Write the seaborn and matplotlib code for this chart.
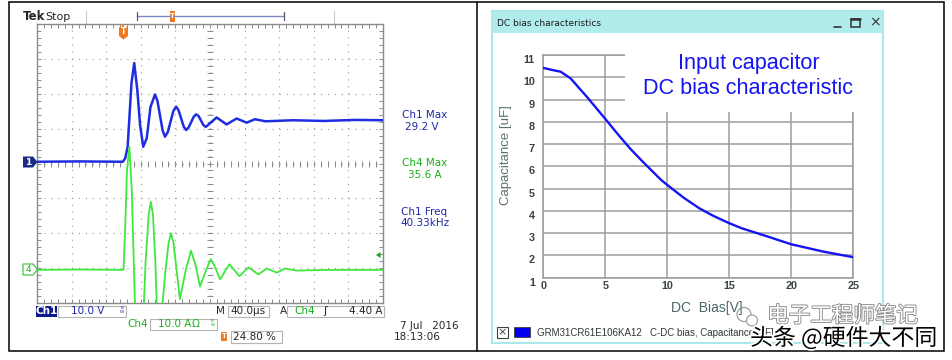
import numpy as np
import matplotlib
matplotlib.use("Agg")
import matplotlib.pyplot as plt
import matplotlib.patches as mpatches
import matplotlib.patheffects as pe
import matplotlib.transforms as mtransforms
import seaborn as sns

sns.set_theme(style="white")
plt.rcParams["font.family"] = ["DejaVu Sans", "Noto Sans CJK SC"]
plt.rcParams["lines.scale_dashes"] = False

# scope traces in divisions (10 x 8 graticule)
CH1_T = [0.0, 1.2, 2.48, 2.55, 2.62, 2.73, 2.81, 2.90, 2.98, 3.07, 3.17, 3.28,
         3.41, 3.48, 3.63, 3.70, 3.78, 3.94, 4.02, 4.09, 4.24, 4.31, 4.38, 4.53,
         4.60, 4.67, 4.81, 4.88, 5.19, 5.48, 5.77, 6.06, 6.30, 6.60, 7.40, 8.30,
         9.20, 10.0]
CH1_V = [4.05, 4.06, 4.05, 4.15, 4.48, 6.30, 6.88, 6.10, 5.10, 4.48, 4.72, 5.62,
         5.98, 5.80, 4.95, 4.77, 4.90, 5.50, 5.63, 5.53, 5.06, 4.96, 5.03, 5.34,
         5.41, 5.36, 5.10, 5.05, 5.32, 5.12, 5.29, 5.17, 5.27, 5.21, 5.24, 5.22,
         5.25, 5.24]

CH4_T = [0.0, 1.3, 2.50, 2.55, 2.60, 2.67, 2.74, 2.83, 2.95, 3.09, 3.14, 3.23,
         3.29, 3.35, 3.42, 3.46, 3.55, 3.63, 3.70, 3.80, 3.87, 3.94, 4.04, 4.13,
         4.29, 4.45, 4.58, 4.71, 4.87, 5.02, 5.16, 5.29, 5.56, 5.85, 6.11, 6.40,
         6.64, 6.93, 7.17, 7.50, 8.50, 10.0]
CH4_I = [0.95, 0.96, 0.95, 2.20, 3.80, 4.48, 3.20, 0.00, -0.90, 0.00, 1.20, 2.55,
         2.90, 2.55, 1.20, 0.00, -0.60, 0.00, 0.80, 1.70, 2.00, 1.75, 0.90, 0.11,
         0.90, 1.50, 1.10, 0.47, 0.90, 1.26, 1.00, 0.68, 1.11, 0.77, 1.02, 0.82,
         0.99, 0.87, 0.99, 0.93, 0.95, 0.95]

# capacitor DC bias curve
DC_BIAS_V = [0, 0.7, 1.4, 2.2, 3.5, 5.0, 6.0, 7.0, 8.0, 9.5, 10.1, 11.3, 12.6, 13.7,
             14.9, 16.0, 17.7, 20.0, 22.6, 25.0]
CAP_UF = [10.42, 10.33, 10.25, 9.95, 9.13, 8.13, 7.45, 6.80, 6.22, 5.39, 5.12, 4.60,
          4.11, 3.78, 3.47, 3.22, 2.92, 2.50, 2.17, 1.92]
BIAS_TICKS = [0, 5, 10, 15, 20, 25]
CAP_TICKS = list(range(1, 12))

CH1_COLOR = "#1f2de0"
CH4_COLOR = "#3ee83e"
BLUE_TXT = "#1e28a8"
GREEN_TXT = "#18b018"
ORANGE = "#f07a20"

W, H = 953, 360
fig = plt.figure(figsize=(W / 100, H / 100), dpi=100)


def px_axes(x0, y0, x1, y1, z):
    return fig.add_axes([x0 / W, 1 - y1 / H, (x1 - x0) / W, (y1 - y0) / H], zorder=z)


bg = px_axes(0, 0, W, H, 0)
fg = px_axes(0, 0, W, H, 10)
for a in (bg, fg):
    a.set_xlim(0, W)
    a.set_ylim(H, 0)
    a.axis("off")

# outer frames
bg.add_patch(mpatches.Rectangle((9, 2), 935, 349, fill=False, ec="black", lw=1.1))
bg.plot([477, 477], [2, 351], color="black", lw=1.1)

# ---------------- oscilloscope ----------------
sc = px_axes(37, 24, 383, 303, 5)
sc.set_xlim(0, 10)
sc.set_ylim(0, 8)
sc.set_xticks(np.arange(0, 10.01, 1))
sc.set_xticks(np.arange(0, 10.01, 0.2), minor=True)
sc.set_yticks(np.arange(0, 8.01, 1))
sc.set_yticks(np.arange(0, 8.01, 0.2), minor=True)
sc.tick_params(which="both", direction="in", length=3, width=0.7, color="#8a8a8a",
               top=True, right=True, bottom=True, left=True,
               labelbottom=False, labelleft=False)
for s in sc.spines.values():
    s.set_color("#8a8a8a")
    s.set_linewidth(1.0)
for i in range(1, 10):
    sc.axvline(i, color="#a0a0a0", lw=0.9, ls=(0, (0.8, 4.22)), zorder=1)
for j in range(1, 8):
    sc.axhline(j, color="#a0a0a0", lw=0.9, ls=(0, (0.8, 4.18)), zorder=1)
# centre cross tick marks
cx = np.arange(0.2, 10, 0.2)
cy = np.arange(0.2, 8, 0.2)
sc.plot(cx, np.full_like(cx, 4.0), ls="none", marker="|", ms=4, mew=0.7, color="#8a8a8a", zorder=1)
sc.plot(np.full_like(cy, 5.0), cy, ls="none", marker="_", ms=4, mew=0.7, color="#8a8a8a", zorder=1)

sns.lineplot(x=CH1_T, y=CH1_V, ax=sc, color=CH1_COLOR, lw=1.8, estimator=None, sort=False, zorder=3)
sns.lineplot(x=CH4_T, y=CH4_I, ax=sc, color=CH4_COLOR, lw=1.3, estimator=None, sort=False, zorder=4)
sc.set_xlabel("")
sc.set_ylabel("")

# header
fg.text(23, 17, "Tek", fontsize=8.5, fontweight="bold", va="center", ha="left")
fg.text(45, 16.5, "Stop", fontsize=8, va="center", ha="left")
for xx in (86, 334):
    bg.plot([xx, xx], [11, 23], color="#c8c8c8", lw=0.8)
bg.plot([137, 284], [16, 16], color="#7f88c0", lw=1.0)
for xx in (137, 284):
    bg.plot([xx, xx], [12, 20], color="#555566", lw=0.9)
bg.add_patch(mpatches.Rectangle((170, 10.5), 5.5, 11, fc=ORANGE, ec="none"))
fg.text(172.7, 16, "T", fontsize=5, color="white", fontweight="bold", ha="center", va="center")

# trigger position marker
fg.add_patch(mpatches.Polygon([(119, 27), (128, 27), (128, 36), (123.5, 39.5), (119, 36)],
                              closed=True, fc=ORANGE, ec="none"))
fg.add_patch(mpatches.Rectangle((122.5, 23.5), 2, 4, fc=ORANGE, ec="none"))
fg.text(123.5, 32, "T", fontsize=5.5, color="white", fontweight="bold", ha="center", va="center")

# channel ground markers
fg.add_patch(mpatches.Polygon([(23, 156.5), (33, 156.5), (37.5, 162), (33, 167.5), (23, 167.5)],
                              closed=True, fc="#1c2a8a", ec="none"))
fg.text(28, 162.3, "1", fontsize=6.5, color="white", fontweight="bold", ha="center", va="center")
fg.add_patch(mpatches.Polygon([(23, 264), (33, 264), (37.5, 269.5), (33, 275), (23, 275)],
                              closed=True, fc="white", ec="#30c030", lw=0.8))
fg.text(28.5, 269.8, "4", fontsize=6.5, color=GREEN_TXT, ha="center", va="center")
fg.add_patch(mpatches.Polygon([(376, 255), (380.5, 252), (380.5, 258)], closed=True, fc="#20a020", ec="none"))

# measurements
for (yy, txt, col, xx) in [(115, "Ch1 Max", BLUE_TXT, 424.5), (127, "29.2 V", BLUE_TXT, 422),
                           (163, "Ch4 Max", GREEN_TXT, 424.5), (174.5, "35.6 A", GREEN_TXT, 425),
                           (212, "Ch1 Freq", BLUE_TXT, 424.5), (223.5, "40.33kHz", BLUE_TXT, 425)]:
    fg.text(xx, yy, txt, color=col, fontsize=7.5, ha="center", va="center")

# bottom readouts
BOX = "#b4b4b4"
fg.add_patch(mpatches.Rectangle((36, 305.5), 21, 11, fc="#0a1a8c", ec="none"))
fg.text(46.5, 311.3, "Ch1", fontsize=7.5, color="white", fontweight="bold", ha="center", va="center")
bg.add_patch(mpatches.Rectangle((58, 305.5), 68, 11.5, fill=False, ec=BOX, lw=0.8))
fg.text(88, 311.3, "10.0 V", fontsize=7.5, color=BLUE_TXT, ha="center", va="center")
fg.text(122, 310, "B\nW", fontsize=3, color=BLUE_TXT, ha="center", va="center", linespacing=0.8)
fg.text(220, 311.3, "M", fontsize=7.5, ha="center", va="center")
bg.add_patch(mpatches.Rectangle((228, 305.5), 41, 11.5, fill=False, ec=BOX, lw=0.8))
fg.text(248.5, 311.3, "40.0µs", fontsize=7.5, ha="center", va="center")
fg.text(283.5, 311.3, "A", fontsize=7.5, ha="center", va="center")
bg.add_patch(mpatches.Rectangle((287, 305.5), 97, 11.5, fill=False, ec=BOX, lw=0.8))
fg.text(305, 311.3, "Ch4", fontsize=7.5, color=GREEN_TXT, ha="center", va="center")
fg.text(325, 311.3, "ʃ", fontsize=8, ha="center", va="center")
fg.text(366, 311.3, "4.40 A", fontsize=7.5, ha="center", va="center")

fg.text(137.7, 324, "Ch4", fontsize=7.5, color=GREEN_TXT, ha="center", va="center")
bg.add_patch(mpatches.Rectangle((150, 318.5), 67, 11.5, fill=False, ec=BOX, lw=0.8))
fg.text(174.5, 324.3, "10.0 A", fontsize=7.5, color=GREEN_TXT, ha="center", va="center")
fg.text(196, 324.3, "Ω", fontsize=7.5, color=GREEN_TXT, ha="center", va="center")
fg.text(212.5, 323, "B\nW", fontsize=3, color=GREEN_TXT, ha="center", va="center", linespacing=0.8)

fg.add_patch(mpatches.Rectangle((221.5, 331.5), 5.5, 9.5, fc=ORANGE, ec="none"))
fg.text(224.2, 336.3, "T", fontsize=5, color="white", fontweight="bold", ha="center", va="center")
bg.add_patch(mpatches.Rectangle((231, 331), 51, 11.5, fill=False, ec=BOX, lw=0.8))
fg.text(233.5, 336.8, "24.80 %", fontsize=7.5, ha="left", va="center")

fg.text(400, 325.7, "7 Jul   2016", fontsize=7.5, ha="left", va="center")
fg.text(394, 336.5, "18:13:06", fontsize=7.5, ha="left", va="center")

# ---------------- DC bias window ----------------
bg.add_patch(mpatches.Rectangle((492, 11), 391, 332, fc="white", ec="#a8e8e8", lw=1.5))
bg.add_patch(mpatches.Rectangle((492, 11), 391, 22, fc="#b0ecec", ec="none"))
fg.text(497, 23, "DC bias characteristics", fontsize=6.5, color="#1c1c1c", va="center", ha="left")
bg.plot([834, 841], [26.5, 26.5], color="#333333", lw=1.2)
bg.add_patch(mpatches.Rectangle((851, 18.5), 9, 8, fill=False, ec="#333333", lw=1.1))
bg.plot([851, 860], [19, 19], color="#333333", lw=1.8)
fg.text(875, 22.5, "×", fontsize=10, color="#333333", ha="center", va="center")

dc = px_axes(543.3, 55, 853.3, 277.7, 5)
dc.set_facecolor("white")
dc.set_xlim(0, 25)
dc.set_ylim(1, 11)
dc.set_xticks(BIAS_TICKS)
dc.set_yticks(CAP_TICKS)
dc.grid(True, color="#9c9c9c", lw=1.1)
for s in dc.spines.values():
    s.set_color("#9c9c9c")
    s.set_linewidth(1.1)
dc.tick_params(length=0, labelsize=7.8, labelcolor="#3a4444")
dc.tick_params(axis="y", pad=6.0)
dc.tick_params(axis="x", pad=2.2)
for lab in dc.get_xticklabels() + dc.get_yticklabels():
    lab.set_fontweight("bold")
    lab.set_family("Liberation Sans")
shift = mtransforms.ScaledTranslation(0, -4 / 100, fig.dpi_scale_trans)
for lab in dc.get_yticklabels():
    lab.set_transform(lab.get_transform() + shift)
dc.add_patch(mpatches.Rectangle((6.6, 8.45), 19.6, 3.0, fc="white", ec="none",
                                zorder=2.6, clip_on=False))
sns.lineplot(x=DC_BIAS_V, y=CAP_UF, ax=dc, color="#1414f5", lw=1.7, estimator=None,
             sort=False, zorder=4)
dc.set_xlabel("")
dc.set_ylabel("")

fg.text(748.5, 63, "Input capacitor", fontsize=15.6, color="#1414f0",
        family="Liberation Sans", ha="center", va="center")
fg.text(748.5, 89, "DC bias characteristic", fontsize=15.6, color="#1414f0",
        family="Liberation Sans", ha="center", va="center")
fg.text(506.5, 155.5, "Capacitance [uF]", rotation=90, fontsize=9.5, color="#587070",
        family="Liberation Sans", ha="center", va="center")
fg.text(707, 308, "DC  Bias[V]", fontsize=10, color="#4a6868",
        family="Liberation Sans", ha="center", va="center")

# status bar
bg.add_patch(mpatches.Rectangle((497, 327), 11, 11, fill=False, ec="#404040", lw=0.8))
fg.text(502.5, 332.5, "×", fontsize=8, color="#404040", ha="center", va="center")
bg.add_patch(mpatches.Rectangle((514, 327), 16, 10, fc="#0000ee", ec="#404040", lw=0.6))
fg.text(537, 332.5, "GRM31CR61E106KA12   C-DC bias, Capacitance [uF]", fontsize=7,
        color="#303838", family="Liberation Sans", ha="left", va="center")

# watermark
fg.add_patch(mpatches.Circle((744, 314.5), 7, fc="white", ec="#9a9a9a", lw=0.9, alpha=0.95))
fg.add_patch(mpatches.Circle((752, 320.5), 5.5, fc="white", ec="#9a9a9a", lw=0.9, alpha=0.95))
fg.text(842.5, 316, "电子工程师笔记", fontsize=15.5, family="Noto Sans CJK SC",
        color="white", ha="center", va="center",
        path_effects=[pe.withStroke(linewidth=1.3, foreground="#8c8c8c")])
fg.text(843.5, 338, "头条 @硬件大不同", fontsize=16.5, family="Noto Sans CJK SC",
        color="black", ha="center", va="center",
        path_effects=[pe.withStroke(linewidth=2.5, foreground="white")])

fig.savefig("out.png", dpi=100)
